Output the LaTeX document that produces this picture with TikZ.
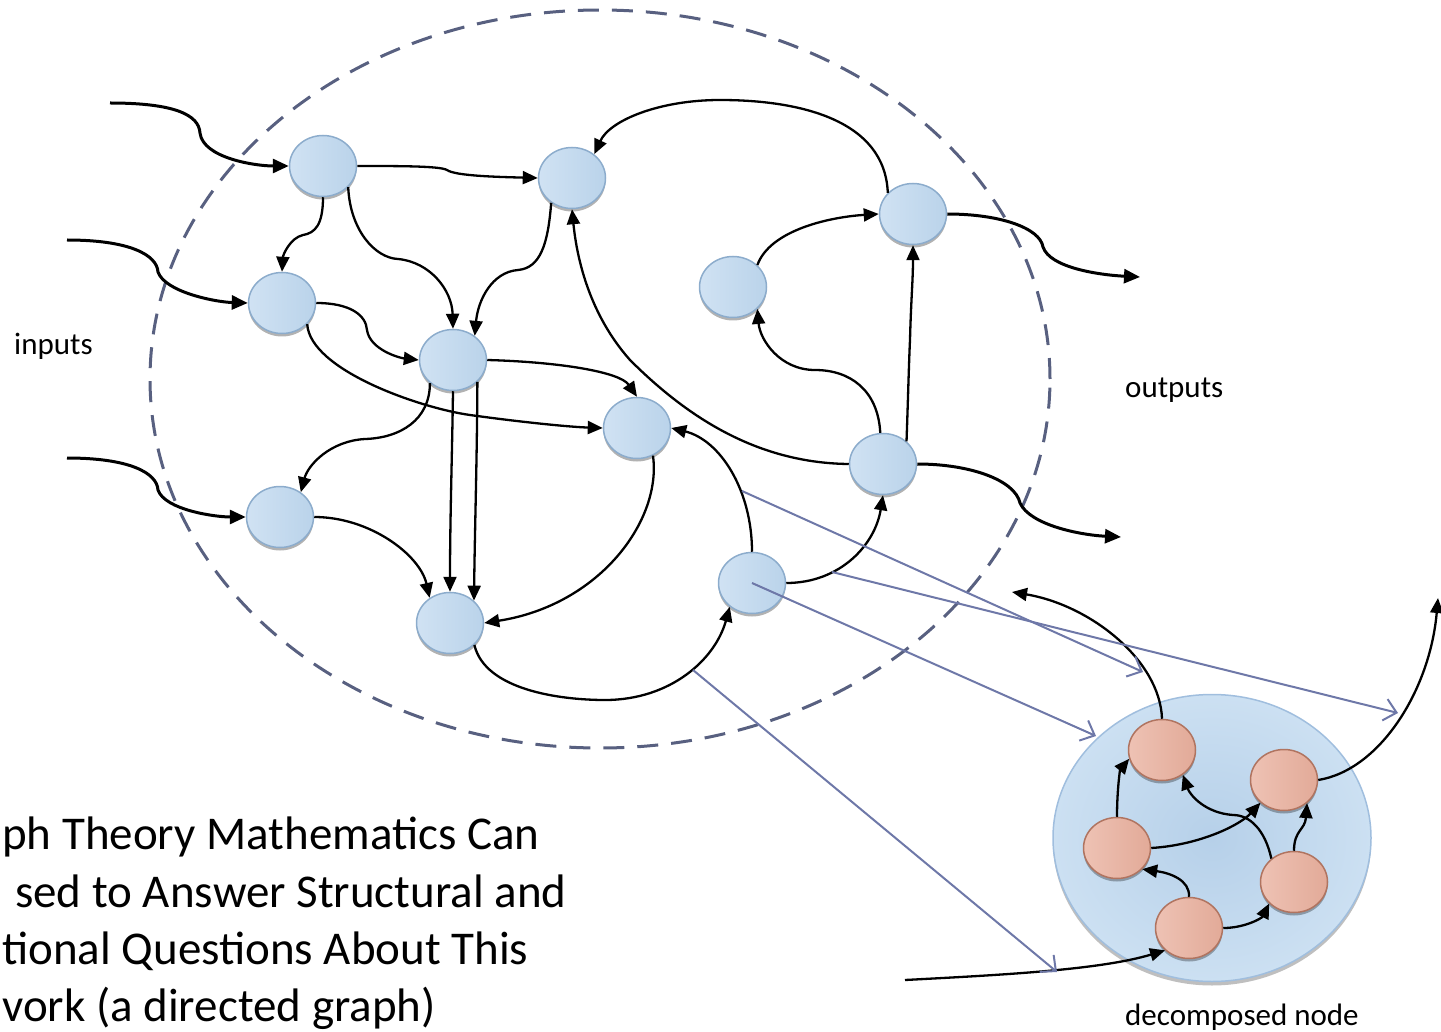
\documentclass[tikz,border=0pt]{standalone}
\usepackage{fontspec}
\setmainfont{Carlito}
\usetikzlibrary{shapes.geometric,arrows.meta,shadows}
\definecolor{bl1}{RGB}{208,226,243}
\definecolor{bl2}{RGB}{186,211,234}
\definecolor{bbd}{RGB}{140,172,204}
\definecolor{rd1}{RGB}{238,194,180}
\definecolor{rd2}{RGB}{226,170,152}
\definecolor{rbd}{RGB}{176,116,96}
\definecolor{dashc}{RGB}{88,96,128}
\definecolor{gl}{RGB}{110,120,168}
\definecolor{big1}{RGB}{204,224,242}
\definecolor{big2}{RGB}{182,208,233}
\definecolor{bigbd}{RGB}{160,190,222}
\tikzset{
  bnode/.style={ellipse, minimum width=67pt, minimum height=61pt, inner sep=0pt,
    draw=bbd, line width=1.5pt, left color=bl1, right color=bl2,
    drop shadow={shadow xshift=0pt, shadow yshift=-3pt, opacity=.3, fill=black}},
  rnode/.style={bnode, draw=rbd, left color=rd1, right color=rd2},
  arr/.style={line width=2.3pt, -{Triangle[length=15pt,width=13pt]}},
  thick arr/.style={line width=3pt, -{Triangle[length=16pt,width=14pt]}},
  gline/.style={gl, line width=2pt, -{Straight Barb[length=12pt,width=22pt,line width=2pt]}},
  lbl/.style={inner sep=0pt, font=\fontsize{31pt}{36pt}\selectfont},
  ttl/.style={inner sep=0pt, anchor=base west, font=\fontsize{47pt}{56pt}\selectfont},
}
\begin{document}
\begin{tikzpicture}[x=1pt,y=-1pt]
\useasboundingbox (0,0) rectangle (1441,1032);
% dashed boundary
\draw[dashc, line width=3pt, dash pattern=on 21pt off 13pt] (600,379) ellipse [x radius=450pt, y radius=369pt];
% decomposed big node
\node[ellipse, minimum width=318pt, minimum height=287pt, draw=bigbd, line width=1.5pt,
  inner color=big2, outer color=big1,
  drop shadow={shadow xshift=0pt, shadow yshift=-4pt, opacity=.25, fill=black}] (big) at (1212,838) {};
% blue nodes
\node[bnode] (A) at (323,166) {};
\node[bnode] (B) at (572,178) {};
\node[bnode] (C) at (282,303) {};
\node[bnode] (D) at (453,360) {};
\node[bnode] (E) at (637,428) {};
\node[bnode] (F) at (280,517) {};
\node[bnode] (G) at (450,623) {};
\node[bnode] (H) at (752,583) {};
\node[bnode] (I) at (733,287) {};
\node[bnode] (J) at (913,214) {};
\node[bnode] (K) at (883,464) {};
% red nodes
\node[rnode] (R1) at (1162,750) {};
\node[rnode] (R2) at (1284,780) {};
\node[rnode] (R3) at (1117,848) {};
\node[rnode] (R4) at (1294,882) {};
\node[rnode] (R5) at (1189,928) {};
% free ends
\coordinate (in1) at (110,103);
\coordinate (in2) at (67,240);
\coordinate (in3) at (67,458);
\coordinate (out1) at (1140,277);
\coordinate (out2) at (1121,537);
\coordinate (dout1) at (1012,592);
\coordinate (dout2) at (1438,598);
\coordinate (din) at (905,980);
\coordinate (g1s) at (742,491);
\coordinate (g1e) at (1143,672);
\coordinate (g2s) at (832,572);
\coordinate (g2e) at (1398,713);
\coordinate (g3e) at (1096,736);
\coordinate (g4s) at (693,670);
\coordinate (g4e) at (1057,972);
% inputs / outputs
\draw[thick arr] (in1) .. controls (175,103) and (199,115) .. (200,133) .. controls (203,158) and (255,166) .. (A.west);
\draw[thick arr] (in2) .. controls (130,240) and (157,255) .. (158,272) .. controls (165,292) and (215,302) .. (C.west);
\draw[thick arr] (in3) .. controls (130,458) and (157,473) .. (158,490) .. controls (165,510) and (215,517) .. (F.west);
\draw[thick arr] (J.east) .. controls (1000,214) and (1040,228) .. (1043,247) .. controls (1050,268) and (1100,275) .. (out1);
\draw[thick arr] (K.east) .. controls (970,464) and (1015,480) .. (1020,503) .. controls (1030,525) and (1080,535) .. (out2);
% internal edges
\draw[arr] (A.east) .. controls (400,166) and (440,166) .. (447,170) .. controls (455,176) and (500,177) .. (B.west);
\draw[arr] (A.south) .. controls (323,225) and (315,233) .. (303,235) .. controls (290,238) and (283,255) .. (C.north);
\draw[arr] (A.-40) .. controls (350,230) and (375,258) .. (398,259) .. controls (430,262) and (452,290) .. (D.north);
\draw[arr] (B.-130) .. controls (548,245) and (540,268) .. (518,270) .. controls (492,272) and (478,300) .. (D.48);
\draw[arr] (C.east) .. controls (350,303) and (366,315) .. (367,330) .. controls (370,350) and (400,358) .. (D.west);
\draw[arr] (C.-40) .. controls (310,370) and (420,408) .. (470,415) .. controls (520,422) and (570,427) .. (E.west);
\draw[arr] (D.east) .. controls (560,362) and (620,372) .. (E.north);
\draw[arr] (D.-135) .. controls (430,420) and (400,438) .. (365,439) .. controls (330,441) and (308,465) .. (F.50);
\draw[arr] (D.south) .. controls (452,460) and (450,520) .. (G.north);
\draw[arr] (D.-42) .. controls (477,460) and (475,520) .. (G.43);
\draw[arr] (F.east) .. controls (370,517) and (420,555) .. (G.129);
\draw[arr] (E.-60) .. controls (662,520) and (600,605) .. (G.east);
\draw[arr] (G.-42) .. controls (485,690) and (560,700) .. (605,700) .. controls (670,700) and (715,660) .. (H.-133);
\draw[arr] (H.north) .. controls (752,490) and (720,440) .. (E.east);
\draw[arr] (H.east) .. controls (840,583) and (875,545) .. (K.south);
\draw[arr] (K.west) .. controls (760,463) and (690,420) .. (630,360) .. controls (590,315) and (577,260) .. (B.south);
\draw[arr] (K.95) .. controls (878,390) and (850,370) .. (815,370) .. controls (780,370) and (760,340) .. (I.-42);
\draw[arr] (K.44) .. controls (908,400) and (909,360) .. (910,340) .. controls (911,300) and (913,280) .. (J.south);
\draw[arr] (I.42) .. controls (770,230) and (830,217) .. (J.west);
\draw[arr] (J.140) .. controls (885,120) and (800,100) .. (720,100) .. controls (660,100) and (610,120) .. (B.47);
% decomposed edges
\draw[arr] (R1.north) .. controls (1160,660) and (1090,605) .. (dout1);
\draw[arr] (R2.east) .. controls (1380,770) and (1430,690) .. (dout2);
\draw[arr] (din) .. controls (1000,975) and (1100,970) .. (R5.-137);
\draw[arr] (R3.north) .. controls (1117,790) and (1120,770) .. (R1.195);
\draw[arr] (R3.east) .. controls (1200,845) and (1240,825) .. (R2.-136);
\draw[arr] (R4.134) .. controls (1265,830) and (1250,815) .. (1233,815) .. controls (1205,813) and (1190,795) .. (R1.-50);
\draw[arr] (R4.north) .. controls (1294,830) and (1305,830) .. (R2.-45);
\draw[arr] (R5.north) .. controls (1190,880) and (1170,873) .. (R3.-40);
\draw[arr] (R5.east) .. controls (1245,928) and (1262,918) .. (R4.-139);
% mapping lines
\draw[gline] (g1s) -- (g1e);
\draw[gline] (g2s) -- (g2e);
\draw[gline] (H.center) -- (g3e);
\draw[gline] (g4s) -- (g4e);
% labels
\node[lbl, anchor=base west] (tin) at (14,355) {inputs};
\node[lbl, anchor=base west] (tout) at (1125,398) {outputs};
\node[lbl, anchor=base west] (tdec) at (1125,1025) {decomposed node};
\node[ttl] (t1) at (2,849) {ph Theory Mathematics Can};
\node[ttl] (t2) at (15,907) {sed to Answer Structural and};
\node[ttl] (t3) at (2,964) {tional Questions About This};
\node[ttl] (t4) at (2,1021) {vork (a directed graph)};
\end{tikzpicture}
\end{document}
